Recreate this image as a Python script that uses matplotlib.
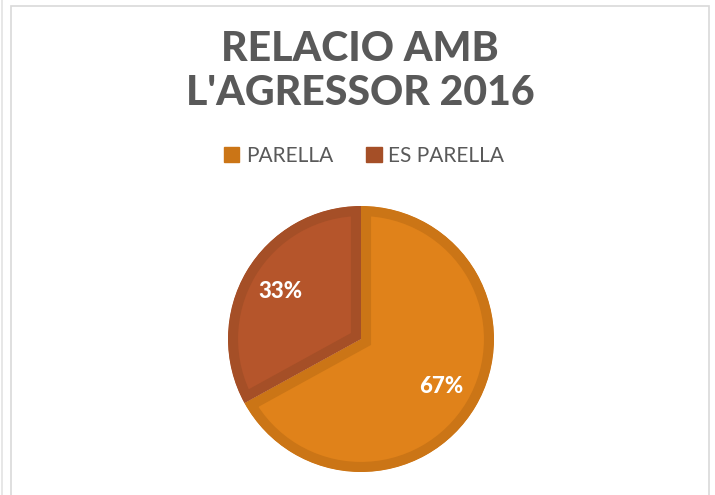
import matplotlib.pyplot as plt
from matplotlib.patches import Rectangle

# data
labels = ['PARELLA', 'ES PARELLA']
values = [67, 33]
fill_colors = ['#E0821A', '#B5552B']
edge_colors = ['#CB7516', '#A54F27']

title = "RELACIO AMB\nL'AGRESSOR 2016"
fonts = ['Lato', 'DejaVu Sans']

W, H = 715, 495
fig = plt.figure(figsize=(W / 100, H / 100), dpi=100)
ax = fig.add_axes([0, 0, 1, 1])

# chart frame
ax.add_patch(Rectangle((11, -10), 698, H - 6 + 10, fill=False,
                       edgecolor='#D9D9D9', linewidth=1.2))
ax.plot([2, 2], [-5, H + 5], color='#E3E3E3', linewidth=1.2)

# pie
wedges, texts, autotexts = ax.pie(
    values, center=(361, H - 339), radius=133, startangle=90,
    counterclock=False, colors=fill_colors, pctdistance=0.7,
    autopct=lambda p: f'{p:.0f}%',
    textprops=dict(color='white', fontsize=16, fontweight='black',
                   family=fonts),
    wedgeprops=dict(linewidth=14.5),
)
for w, ec in zip(wedges, edge_colors):
    w.set_edgecolor(ec)
    # keep the border inside its own slice (pie turns clipping off)
    w.set_clip_on(True)
    w.set_clip_path(w.get_path(), w.get_transform())

ax.set_xlim(0, W)
ax.set_ylim(0, H)
ax.set_aspect('auto')
ax.axis('off')

# title
ax.text(360, H - 71, title, ha='center', va='center', fontsize=29.5,
        fontweight='black', color='#595959', linespacing=1.18,
        family=fonts)

# legend
handles = [Rectangle((0, 0), 1, 1, facecolor=c, edgecolor=c) for c in edge_colors]
ax.legend(handles, labels, loc='center', bbox_to_anchor=(364 / W, 1 - 156 / H),
          ncol=2, frameon=False, handlelength=0.75, handleheight=0.75,
          handletextpad=0.3, columnspacing=1.6,
          prop=dict(family=fonts, size=15),
          labelcolor='#595959')

fig.savefig('out.png', dpi=100)
